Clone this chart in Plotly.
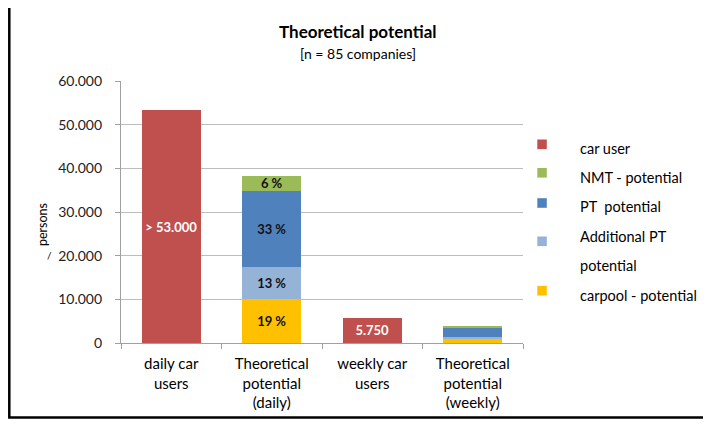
import plotly.graph_objects as go

# page offset (body margin) and figure size
OX, OY = 8, 8
W, H = 703, 412
# plot area in page pixels
PX0, PX1, PY0, PY1 = 121, 523, 81, 343
ML, MT = PX0 - OX, PY0 - OY
PW, PH = PX1 - PX0, PY1 - PY0
MR, MB = W - ML - PW, H - MT - PH


def fx(x):
    return (x - PX0) / PW


def fy(y):
    return 1 - (y - PY0) / PH


categories = ["daily car<br>users", "Theoretical<br>potential<br>(daily)",
              "weekly car<br>users", "Theoretical<br>potential<br>(weekly)"]

car_user = [53300, None, 5750, None]
carpool = [None, 10100, None, 1000]
additional_pt = [None, 7200, None, 450]
pt_potential = [None, 17600, None, 2000]
nmt_potential = [None, 3300, None, 500]

car_user_text = ["> 53.000", "", "5.750", ""]
carpool_text = ["", "19 %", "", ""]
additional_pt_text = ["", "13 %", "", ""]
pt_text = ["", "33 %", "", ""]
nmt_text = ["", "6 %", "", ""]

tick_vals = [0, 10000, 20000, 30000, 40000, 50000, 60000]
tick_text = ["0", "10.000", "20.000", "30.000", "40.000", "50.000", "60.000"]

legend_names = ["car user", "NMT - potential", "PT  potential",
                "Additional PT\npotential", "carpool - potential"]

FONT = "Lato, Carlito, Calibri, sans-serif"

C_CAR, C_POOL, C_ADD, C_PT, C_NMT = "#C0504D", "#FFC000", "#95B3D7", "#4F81BD", "#9BBB59"

series = [
    ("car user", car_user, car_user_text, C_CAR, "white"),
    ("carpool - potential", carpool, carpool_text, C_POOL, "#111111"),
    ("Additional PT potential", additional_pt, additional_pt_text, C_ADD, "#111111"),
    ("PT  potential", pt_potential, pt_text, C_PT, "#111111"),
    ("NMT - potential", nmt_potential, nmt_text, C_NMT, "#111111"),
]

fig = go.Figure()
for name, vals, txt, col, tcol in series:
    fig.add_trace(go.Bar(
        x=categories, y=vals, name=name, text=txt,
        textposition="inside", insidetextanchor="middle", constraintext="none",
        textangle=0,
        textfont=dict(family=FONT, size=13, color=tcol, weight="bold"),
        marker=dict(color=col, line=dict(width=0)),
        showlegend=False, hoverinfo="skip",
    ))

fig.update_layout(
    width=W, height=H, barmode="stack", bargap=0.41,
    margin=dict(l=ML, r=MR, t=MT, b=MB, autoexpand=False),
    paper_bgcolor="white", plot_bgcolor="white",
    font=dict(family=FONT, color="#000000"),
    showlegend=False,
    xaxis=dict(showline=True, linecolor="#A0A0A0", linewidth=1.3,
               ticks="outside", tickson="boundaries", ticklen=5,
               tickcolor="#A0A0A0", ticklabelstandoff=7, automargin=False,
               tickfont=dict(family=FONT, size=15, color="#000000"),
               showgrid=False),
    yaxis=dict(range=[0, 60000], tickvals=tick_vals, ticktext=tick_text,
               showline=True, linecolor="#A0A0A0", linewidth=1.3,
               ticks="outside", ticklen=5, tickcolor="#A0A0A0",
               ticklabelstandoff=10, automargin=False,
               tickfont=dict(family=FONT, size=14, color="#222222"),
               showgrid=True, gridcolor="#BDBDBD", gridwidth=1.3,
               zeroline=False),
)


def note(x, y, text, size, **kw):
    fig.add_annotation(x=fx(x), y=fy(y), xref="paper", yref="paper",
                       text=text, showarrow=False,
                       xanchor=kw.pop("xanchor", "center"), yanchor="middle",
                       font=dict(family=FONT, size=size, color="#000000"), **kw)


note(358, 32, "<b>Theoretical potential</b>", 17)
note(358, 53, "[n = 85 companies]", 14)
note(42, 225, "persons", 12.5, textangle=-90)
note(49, 255, "/", 10)

# legend (drawn manually to match spacing)
legend_colors = [C_CAR, C_NMT, C_PT, C_ADD, C_POOL]
marker_y = [144.3, 172.8, 203, 241.3, 290.7]
text_y = [[148], [177], [206], [236, 265.5], [295.7]]
for name, col, my, tys in zip(legend_names, legend_colors, marker_y, text_y):
    fig.add_shape(type="rect", xref="paper", yref="paper",
                  x0=fx(537.3), x1=fx(546.8), y0=fy(my - 4.8), y1=fy(my + 4.8),
                  fillcolor=col, line=dict(width=0))
    for line, ty in zip(name.split("\n"), tys):
        note(578, ty, line, 14.5, xanchor="left")

# outer frame (left, top, bottom edges visible in the reference)
fig.add_shape(type="rect", xref="paper", yref="paper",
              x0=fx(9.3), x1=fx(740), y0=fy(6.5), y1=fy(417.5),
              line=dict(color="black", width=2.5), fillcolor="rgba(0,0,0,0)", layer="above")

fig.write_html("out.html")
